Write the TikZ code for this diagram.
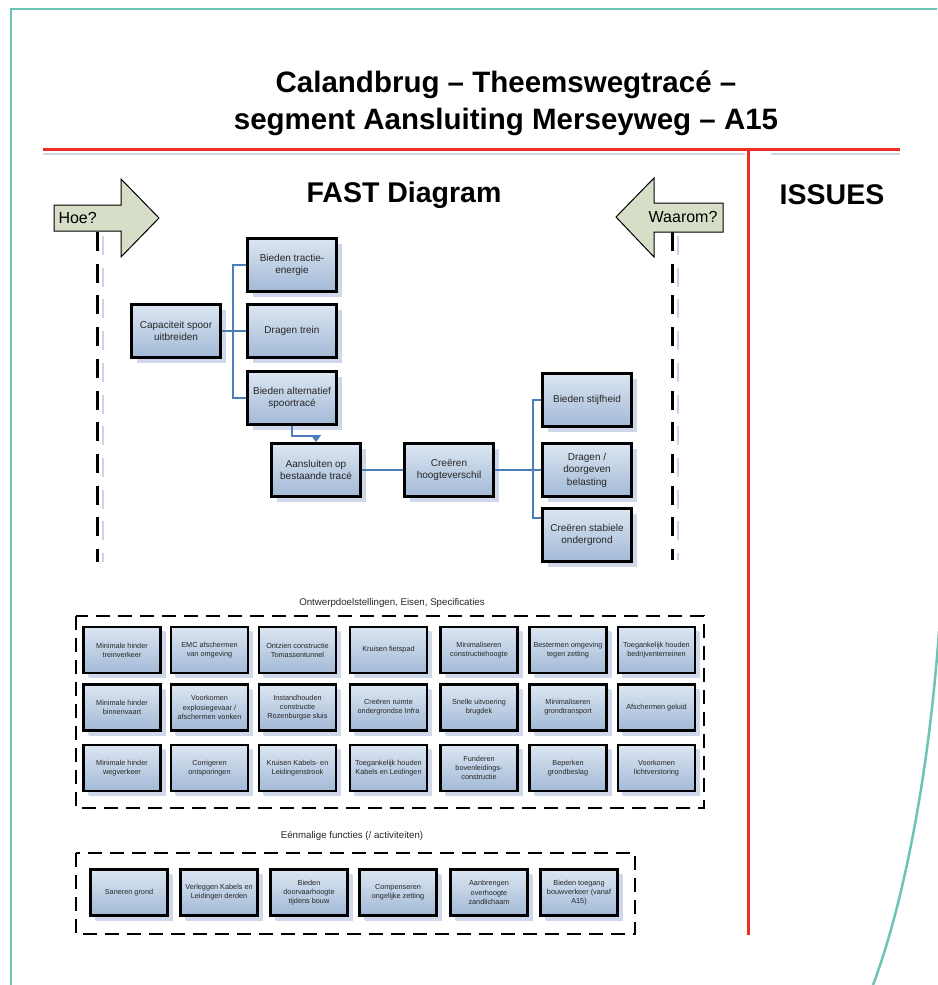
\documentclass[tikz,border=0pt]{standalone}
\usepackage{fontspec}
\setmainfont{Liberation Sans}
\usetikzlibrary{shadows,arrows.meta}
\definecolor{frameTeal}{HTML}{6CC4B5}
\definecolor{redLine}{HTML}{EE2E24}
\definecolor{paleLine}{HTML}{CDD6E8}
\definecolor{boxTop}{HTML}{DCE6F2}
\definecolor{boxBot}{HTML}{A2B9D6}
\definecolor{shadowc}{HTML}{CFD7EA}
\definecolor{boxText}{HTML}{262626}
\definecolor{connBlue}{HTML}{4A7EBB}
\definecolor{arrowFill}{HTML}{D7DEC7}
\definecolor{dashShadow}{HTML}{C9D5EC}
\begin{document}
\begin{tikzpicture}[x=1pt,y=-1pt,
  fbox/.style={draw=black, line width=2.8pt, top color=boxTop, bottom color=boxBot,
    text=boxText, align=center, inner sep=1pt, minimum width=89pt, minimum height=53pt,
    font=\fontsize{10}{12.5}\selectfont,
    drop shadow={shadow xshift=5pt, shadow yshift=-5pt, fill=shadowc, opacity=1}},
  gbox/.style={fbox, line width=2.4pt, minimum width=77pt, minimum height=46pt,
    font=\fontsize{7.3}{9.2}\selectfont,
    drop shadow={shadow xshift=4pt, shadow yshift=-4pt, fill=shadowc, opacity=1}},
  conn/.style={draw=connBlue, line width=1.3pt},
  bigarrow/.style={draw=black, line width=1pt, fill=arrowFill, line join=miter},
  vdash/.style={line width=3pt, dash pattern=on 19pt off 12.7pt},
  vdashshadow/.style={dashShadow, line width=2pt, dash pattern=on 19pt off 12.7pt},
  grpbox/.style={draw=black, line width=2.2pt, dash pattern=on 14pt off 8pt},
  title/.style={font=\fontsize{29.5}{34}\selectfont\bfseries},
  head/.style={font=\fontsize{28.5}{32}\selectfont\bfseries},
  small/.style={font=\fontsize{9.7}{11}\selectfont, text=boxText}]
\useasboundingbox (0,0) rectangle (937,985);

% outer frame
\draw[frameTeal, line width=2.5pt] (11,985) -- (11,9) -- (937,9);
\draw[frameTeal, line width=2.5pt] (941,600) .. controls (932,760) and (905,900) .. (873,985);

% title
\node[title] (t1) at (506,85) {Calandbrug – Theemswegtracé –};
\node[title] (t2) at (506,122) {segment Aansluiting Merseyweg – A15};

% red lines
\draw[paleLine, line width=2pt] (43,154) -- (745,154);
\draw[paleLine, line width=2pt] (771,154) -- (900,154);
\draw[redLine, line width=3pt] (43,149) -- (900,149);
\draw[redLine, line width=3pt] (748,149) -- (748,935);

\node[head] (fast) at (404,195) {FAST Diagram};
\node[head] (issues) at (832,195) {ISSUES};

% dashed vertical lines
\draw[vdashshadow] (103,236) -- (103,562);
\draw[vdash] (97,232) -- (97,562);
\draw[vdashshadow] (678,236) -- (678,560);
\draw[vdash] (672,232) -- (672,560);

% Hoe? arrow
\draw[bigarrow] (54,205) -- (121,205) -- (121,179) -- (159,218) -- (121,257) -- (121,231) -- (54,231) -- cycle;
\node[font=\fontsize{16}{18}\selectfont, anchor=west] (hoe) at (55,218) {Hoe?};
% Waarom? arrow
\draw[bigarrow] (723,203) -- (654,203) -- (654,178) -- (616,217) -- (654,257) -- (654,232) -- (723,232) -- cycle;
\node[font=\fontsize{16}{18}\selectfont, anchor=east] (waarom) at (721,217) {Waarom?};

% FAST nodes
\node[fbox] (cap) at (176,331) {Capaciteit spoor\\uitbreiden};
\node[fbox] (trac) at (292,265) {Bieden tractie-\\energie};
\node[fbox] (drag) at (292,331) {Dragen trein};
\node[fbox] (alt) at (292,398) {Bieden alternatief\\spoortracé};
\node[fbox] (aans) at (316,470) {Aansluiten op\\bestaande tracé};
\node[fbox] (creh) at (449,470) {Creëren\\hoogteverschil};
\node[fbox] (stijf) at (587,400) {Bieden stijfheid};
\node[fbox] (belast) at (587,470) {Dragen /\\doorgeven\\belasting};
\node[fbox] (stab) at (587,535) {Creëren stabiele\\ondergrond};

\coordinate (j1) at (233,331);
\coordinate (j2) at (533,470);
\draw[conn] (cap.east) -- (drag.west);
\draw[conn] (trac.west) -| (j1);
\draw[conn] (alt.west) -| (j1);
\draw[conn, -{Triangle[width=10pt,length=7pt]}] (alt.south) -- ++(0,10) -| (aans.north);
\draw[conn] (aans.east) -- (creh.west);
\draw[conn] (creh.east) -- (belast.west);
\draw[conn] (stijf.west) -| (j2);
\draw[conn] ([yshift=17pt]stab.west) -| (j2);

% requirements group
\node[small] (reqlabel) at (392,603) {Ontwerpdoelstellingen, Eisen, Specificaties};
\draw[grpbox] (76,616) rectangle (704,808);

\node[gbox] (r11) at (122,650) {Minimale hinder\\treinverkeer};
\node[gbox] (r12) at (209.5,650) {EMC afschermen\\van omgeving};
\node[gbox] (r13) at (297.5,650) {Ontzien constructie\\Tomassentunnel};
\node[gbox] (r14) at (388.5,650) {Kruisen fietspad};
\node[gbox] (r15) at (479,650) {Minimaliseren\\constructiehoogte};
\node[gbox] (r16) at (568,650) {Bestermen omgeving\\tegen zetting};
\node[gbox] (r17) at (656.5,650) {Toegankelijk houden\\bedrijventerreinen};

\node[gbox] (r21) at (122,707.5) {Minimale hinder\\binnenvaart};
\node[gbox] (r22) at (209.5,707.5) {Voorkomen\\explosiegevaar /\\afschermen vonken};
\node[gbox] (r23) at (297.5,707.5) {Instandhouden\\constructie\\Rozenburgse sluis};
\node[gbox] (r24) at (388.5,707.5) {Creëren ruimte\\ondergrondse Infra};
\node[gbox] (r25) at (479,707.5) {Snelle uitvoering\\brugdek};
\node[gbox] (r26) at (568,707.5) {Minimaliseren\\grondtransport};
\node[gbox] (r27) at (656.5,707.5) {Afschermen geluid};

\node[gbox] (r31) at (122,768) {Minimale hinder\\wegverkeer};
\node[gbox] (r32) at (209.5,768) {Corrigeren\\ontsporingen};
\node[gbox] (r33) at (297.5,768) {Kruisen Kabels- en\\Leidingenstrook};
\node[gbox] (r34) at (388.5,768) {Toegankelijk houden\\Kabels en Leidingen};
\node[gbox] (r35) at (479,768) {Funderen\\bovenleidings-\\constructie};
\node[gbox] (r36) at (568,768) {Beperken\\grondbeslag};
\node[gbox] (r37) at (656.5,768) {Voorkomen\\lichtverstoring};

% one-off functions group
\node[small] (oncelabel) at (352,836) {Eénmalige functies (/ activiteiten)};
\draw[grpbox] (76,853) rectangle (635,934);

\node[gbox] (o1) at (129,892.5) {Saneren grond};
\node[gbox] (o2) at (219,892.5) {Verleggen Kabels en\\Leidingen derden};
\node[gbox] (o3) at (309,892.5) {Bieden\\doorvaarhoogte\\tijdens bouw};
\node[gbox] (o4) at (398,892.5) {Compenseren\\ongelijke zetting};
\node[gbox] (o5) at (489,892.5) {Aanbrengen\\overhoogte\\zandlichaam};
\node[gbox] (o6) at (579,892.5) {Bieden toegang\\bouwverkeer (vanaf\\A15)};
\end{tikzpicture}
\end{document}
